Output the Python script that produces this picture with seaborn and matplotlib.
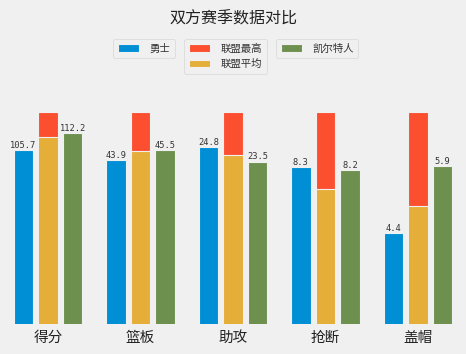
import pandas as pd
import matplotlib
matplotlib.use("Agg")
import matplotlib.pyplot as plt
import seaborn as sns

# 数据
categories = ["得分", "篮板", "助攻", "抢断", "盖帽"]
warriors = [105.7, 43.9, 24.8, 8.3, 4.4]
celtics = [112.2, 45.5, 23.5, 8.2, 5.9]
league_avg = [110.8, 45.3, 24.1, 7.6, 5.0]
league_max = [120.3, 51.8, 27.9, 10.05, 7.13]

series_names = ["勇士", "联盟平均", "凯尔特人"]
colors = {"勇士": "#008fd5", "联盟最高": "#fc4f30", "联盟平均": "#e5ae38", "凯尔特人": "#6d904f"}

# 以联盟最高为基准归一化
rows = []
for i, c in enumerate(categories):
    for name, vals in zip(series_names, [warriors, league_avg, celtics]):
        rows.append({"项目": c, "球队": name, "值": vals[i], "比例": vals[i] / league_max[i]})
df = pd.DataFrame(rows)
df_max = pd.DataFrame({"项目": categories, "比例": [1.0] * len(categories)})

plt.style.use("fivethirtyeight")
plt.rcParams["font.family"] = ["Noto Sans CJK SC", "DejaVu Sans"]
plt.rcParams["axes.unicode_minus"] = False

fig = plt.figure(figsize=(4.66, 3.54), dpi=100, facecolor="#f0f0f0")
ax = fig.add_axes([0, 0.0847, 1, 0.6017])
ax.set_facecolor("#f0f0f0")

sns.barplot(data=df_max, x="项目", y="比例", order=categories, color=colors["联盟最高"],
            width=0.21, saturation=1, edgecolor="#f0f0f0", linewidth=0.8, ax=ax)
sns.barplot(data=df, x="项目", y="比例", hue="球队", order=categories, hue_order=series_names,
            palette=colors, width=0.8, gap=0.21, saturation=1, edgecolor="#f0f0f0",
            linewidth=0.8, legend=False, ax=ax)

# 数值标签 (勇士和凯尔特人)
for cont, name in zip(ax.containers[1:], series_names):
    if name == "联盟平均":
        continue
    vals = df[df["球队"] == name]["值"].tolist()
    for bar, v in zip(cont, vals):
        ax.text(bar.get_x() + bar.get_width() / 2, bar.get_height() + 0.001, str(v),
                ha="center", va="bottom", fontsize=6.3, color="#333333",
                family=["DejaVu Sans Mono"])

ax.set_ylim(0.33, 1.002)
ax.set_xlim(-0.52, 4.52)
ax.grid(False)
ax.set_xlabel("")
ax.set_ylabel("")
ax.set_yticks([])
ax.tick_params(axis="x", length=0, pad=5, labelsize=10.5, labelcolor="#222222")
for s in ax.spines.values():
    s.set_visible(False)

fig.suptitle("双方赛季数据对比", x=0.5, y=0.97, fontsize=11.5, color="#222222")

# 三个图例
h_blue, h_avg, h_green = ax.containers[1], ax.containers[2], ax.containers[3]
h_red = ax.containers[0]
leg_kw = dict(loc="upper center", bbox_transform=fig.transFigure, fontsize=7.5,
              handlelength=2.0, handleheight=0.7, handletextpad=1.0, labelspacing=0.5,
              frameon=True, facecolor="#f0f0f0", edgecolor="#d0d0d0", borderpad=0.45,
              fancybox=True, labelcolor="#333333")
leg1 = ax.legend([h_blue], ["勇士"], bbox_to_anchor=(0.309, 0.905), **leg_kw)
ax.add_artist(leg1)
leg2 = ax.legend([h_red, h_avg], ["联盟最高", "联盟平均"], bbox_to_anchor=(0.484, 0.905), **leg_kw)
ax.add_artist(leg2)
leg3 = ax.legend([h_green], ["凯尔特人"], bbox_to_anchor=(0.681, 0.905), **leg_kw)

fig.savefig("out.png", dpi=100, facecolor="#f0f0f0")
